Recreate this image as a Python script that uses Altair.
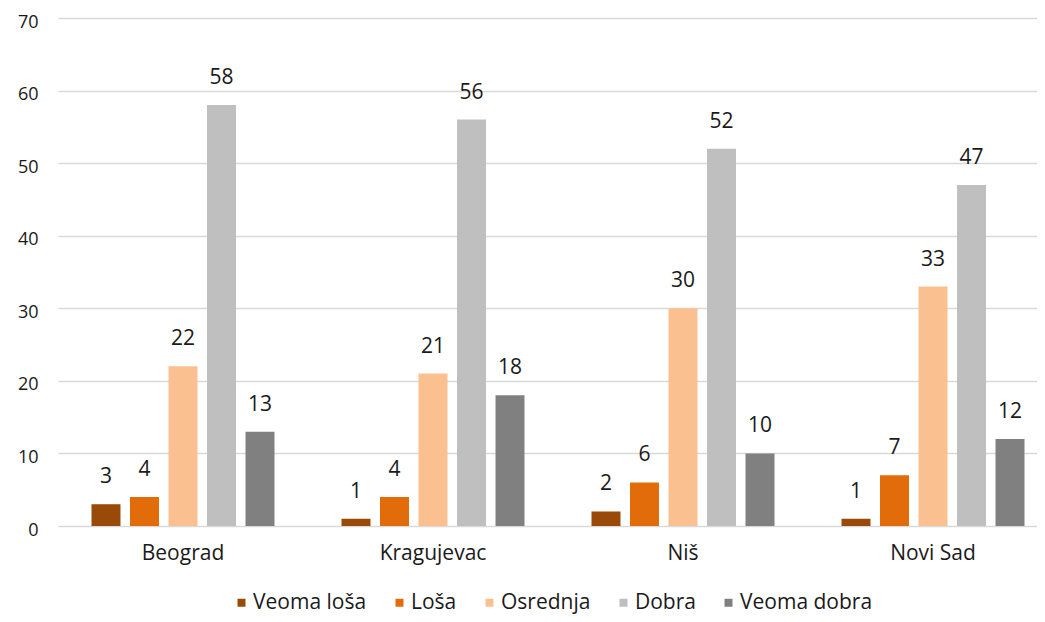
import altair as alt
import pandas as pd

cities = ["Beograd", "Kragujevac", "Niš", "Novi Sad"]
series = ["Veoma loša", "Loša", "Osrednja", "Dobra", "Veoma dobra"]
veoma_losa = [3, 1, 2, 1]
losa = [4, 4, 6, 7]
osrednja = [22, 21, 30, 33]
dobra = [58, 56, 52, 47]
veoma_dobra = [13, 18, 10, 12]
colors = ["#9A4A08", "#E36C0A", "#FAC090", "#BFBFBF", "#808080"]

rows = []
for s, vals in zip(series, [veoma_losa, losa, osrednja, dobra, veoma_dobra]):
    for c, v in zip(cities, vals):
        rows.append({"grad": c, "ocena": s, "vrednost": v})
df = pd.DataFrame(rows)

FONT = "Open Sans"
TXT = "#1a1a1a"

x = alt.X("grad:N", sort=cities, title=None,
          scale=alt.Scale(range=[0, 1000], paddingInner=0, paddingOuter=0),
          axis=alt.Axis(labelAngle=0, ticks=False, domain=False, labelFontSize=21,
                        labelFont=FONT, labelColor=TXT, labelPadding=16))
xo = alt.XOffset("ocena:N", sort=series,
                 scale=alt.Scale(paddingInner=0.247, paddingOuter=0.87))
y = alt.Y("vrednost:Q", title=None,
          scale=alt.Scale(domain=[0, 70]),
          axis=alt.Axis(values=list(range(0, 71, 10)), ticks=False, domain=False,
                        labelFontSize=18, labelFont=FONT, labelColor=TXT,
                        labelPadding=20, labelOffset=4,
                        gridColor="#D9D9D9", gridWidth=1.5))

base = alt.Chart(df)

bars = base.mark_bar().encode(
    x=x, xOffset=xo, y=y,
    color=alt.Color("ocena:N", sort=series,
                    scale=alt.Scale(domain=series, range=colors),
                    legend=alt.Legend(title=None, orient="none", direction="horizontal",
                                      legendX=173, legendY=574,
                                      symbolType="square", symbolSize=64,
                                      labelFontSize=21, labelFont=FONT, labelColor=TXT,
                                      columnPadding=22, labelOffset=1,
                                      symbolStrokeWidth=0)),
)

labels = base.mark_text(baseline="alphabetic", dy=-21, fontSize=21, font=FONT,
                        color=TXT).encode(
    x=x, xOffset=xo, y=y, text="vrednost:Q"
)

chart = (bars + labels).properties(
    width=979, height=508,
    autosize=alt.AutoSizeParams(type="none"),
    padding={"left": 50, "top": 10, "right": 0, "bottom": 88},
).configure_view(stroke=None)

chart.save("out.html", embed_options={"renderer": "svg", "actions": False})
